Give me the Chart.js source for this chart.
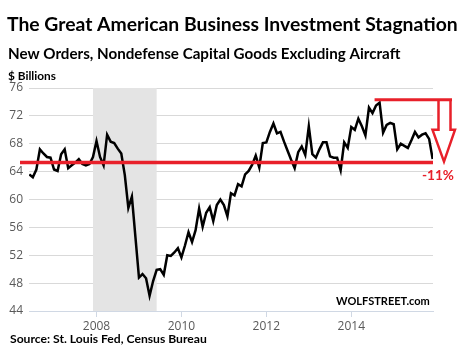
<!DOCTYPE html>
<html><head><meta charset="utf-8">
<script src="https://cdn.jsdelivr.net/npm/chart.js@4/dist/chart.umd.min.js"></script>
<style>html,body{margin:0;padding:0;background:#fff;}#wrap{width:461px;height:351px;position:relative;}</style>
</head><body><div id="wrap"><canvas id="c" width="461" height="351"></canvas></div>
<script>
// ---- DATA ----
const startYear = 2006;
const startMonth = 6; // June 2006, monthly through Dec 2015
const newOrders = [
  63.6, 63.2, 64.3, 67.2, 66.6, 66.1, 66.0,
  64.3, 64.1, 66.5, 67.2, 64.5, 64.9, 65.3, 65.8, 65.1, 64.9, 65.1, 66.1,
  68.4, 66.1, 64.9, 69.3, 68.3, 68.1, 67.3, 66.6, 63.5, 58.8, 60.4, 54.6,
  48.8, 49.3, 48.7, 46.2, 48.3, 49.9, 50.0, 49.2, 52.0, 51.9, 52.4, 53.0,
  51.7, 53.4, 55.3, 53.9, 55.6, 58.7, 56.1, 58.1, 58.9, 56.9, 59.2, 60.0,
  59.2, 57.6, 60.9, 60.6, 62.2, 61.9, 63.6, 64.1, 65.0, 66.3, 64.6, 68.1,
  68.2, 69.7, 70.9, 69.5, 69.7, 68.3, 67.0, 65.7, 64.5, 66.8, 67.6, 66.4,
  70.5, 66.5, 66.0, 67.2, 68.2, 68.2, 66.2, 66.0, 66.0, 64.2, 68.2, 67.4,
  70.4, 70.0, 71.6, 70.5, 69.2, 73.2, 72.4, 73.5, 73.9, 69.6, 70.7, 71.0,
  70.8, 67.2, 68.0, 67.7, 67.4, 68.5, 69.7, 68.9, 69.3, 69.5, 68.7, 65.8
];
const yTickValues = [44, 48, 52, 56, 60, 64, 68, 72, 76];
const xTickYears = [2008, 2010, 2012, 2014];
const recession = [2007 + 11/12, 2009 + 5/12]; // Dec 2007 - Jun 2009
const baseLevel = 65.3;
const peakLevel = 74.3;
const dropLabel = '-11%';
const titleText = 'The Great American Business Investment Stagnation';
const subtitleText = 'New Orders, Nondefense Capital Goods Excluding Aircraft';
const unitText = '$ Billions';
const sourceText = 'Source: St. Louis Fed, Census Bureau';
const brandText = 'WOLFSTREET.com';

const points = newOrders.map((v, i) => ({ x: startYear + (startMonth - 1 + i) / 12, y: v }));

const RED = '#e8202a';
function fitText(ctx, text, x, yc, targetW, weight, family, color) {
  ctx.save();
  ctx.font = `${weight} 20px ${family}`;
  const w = ctx.measureText(text).width;
  const size = 20 * targetW / w;
  ctx.font = `${weight} ${size}px ${family}`;
  ctx.fillStyle = color;
  ctx.textAlign = 'left';
  ctx.textBaseline = 'middle';
  ctx.fillText(text, x, yc);
  ctx.restore();
}

const annot = {
  id: 'annot',
  beforeDatasetsDraw(chart) {
    const { ctx, chartArea: a, scales: { x } } = chart;
    ctx.save();
    ctx.fillStyle = '#e4e4e4';
    const x0 = x.getPixelForValue(recession[0]), x1 = x.getPixelForValue(recession[1]);
    ctx.fillRect(x0, a.top, x1 - x0, a.bottom - a.top);
    ctx.restore();
  },
  afterDatasetsDraw(chart) {
    const { ctx, chartArea: a, scales: { x, y } } = chart;
    const yb = y.getPixelForValue(baseLevel);
    const yp = y.getPixelForValue(peakLevel);
    let pi = 0; newOrders.forEach((v, i) => { if (v > newOrders[pi]) pi = i; });
    const xp = x.getPixelForValue(points[pi].x);
    const R = a.right;
    ctx.save();
    ctx.strokeStyle = RED;
    ctx.lineCap = 'butt';
    // baseline
    ctx.lineWidth = 3.5;
    ctx.beginPath(); ctx.moveTo(20, yb); ctx.lineTo(R, yb); ctx.stroke();
    // top line
    ctx.lineWidth = 3;
    ctx.beginPath(); ctx.moveTo(xp - 5, yp); ctx.lineTo(R + 19, yp); ctx.stroke();
    // arrow outline
    const ys = y.getPixelForValue(70.0);
    ctx.lineWidth = 2.5;
    ctx.lineJoin = 'miter';
    ctx.beginPath();
    ctx.moveTo(R + 5.5, yp);
    ctx.lineTo(R + 5.5, ys);
    ctx.lineTo(R - 0.5, ys);
    ctx.lineTo(R + 11, yb - 1);
    ctx.lineTo(R + 22, ys);
    ctx.lineTo(R + 17.5, ys);
    ctx.lineTo(R + 17.5, yp);
    ctx.stroke();
    ctx.restore();
    fitText(ctx, dropLabel, R - 11, yb + 13, 32, 'bold', 'Lato', RED);
  },
  afterDraw(chart) {
    const ctx = chart.ctx;
    fitText(ctx, titleText, 7, 25, 451, 'bold', 'Lato', '#000');
    fitText(ctx, subtitleText, 8, 54, 393, 'bold', 'Lato', '#000');
    fitText(ctx, unitText, 8, 76, 48, 'bold', 'Lato', '#000');
    fitText(ctx, sourceText, 10, 339, 197, 'bold', 'Lato', '#000');
    fitText(ctx, brandText, 336, 301, 94, 'bold', 'Lato', '#000');
  }
};

new Chart(document.getElementById('c'), {
  type: 'line',
  data: {
    datasets: [{
      data: points,
      borderColor: '#000',
      borderWidth: 2.5,
      pointRadius: 0,
      tension: 0,
      fill: false
    }]
  },
  options: {
    responsive: false,
    animation: false,
    devicePixelRatio: 1,
    layout: { padding: { left: 0, top: 88, right: 28, bottom: 0 } },
    plugins: { legend: { display: false }, title: { display: false }, tooltip: { enabled: false } },
    scales: {
      x: {
        type: 'linear',
        min: 2006.41,
        max: 2015.925,
        afterBuildTicks: s => { s.ticks = xTickYears.map(v => ({ value: v })); },
        afterFit: s => { s.height = 40; },
        ticks: { callback: v => String(v), color: '#595959', font: { family: 'Open Sans', size: 12 }, padding: 2, maxRotation: 0 },
        grid: { drawOnChartArea: false, drawTicks: true, tickLength: 6, color: '#d0d8e4' },
        border: { display: true, color: '#d0d8e4', width: 1 }
      },
      y: {
        min: 44,
        max: 76,
        afterBuildTicks: s => { s.ticks = yTickValues.map(v => ({ value: v })); },
        afterFit: s => { s.width = 29; },
        ticks: { color: '#595959', font: { family: 'Open Sans', size: 12 }, padding: 6 },
        grid: { color: '#d9d9d9', lineWidth: 1, drawTicks: false },
        border: { display: false }
      }
    }
  },
  plugins: [annot]
});
</script>
</body></html>
